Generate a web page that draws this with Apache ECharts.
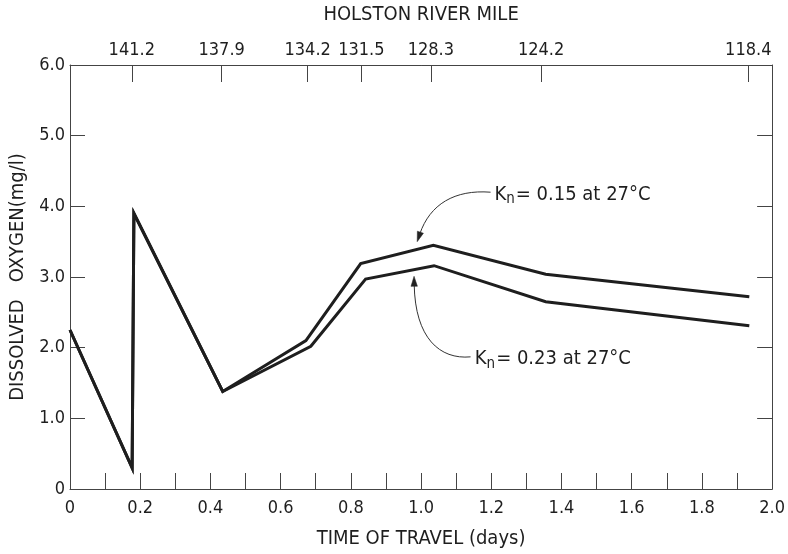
<!DOCTYPE html>
<html>
<head>
<meta charset="utf-8">
<script src="https://cdn.jsdelivr.net/npm/echarts@6/dist/echarts.min.js"></script>
<style>
html,body{margin:0;padding:0;background:#fff;}
#chart{width:788px;height:554px;}
</style>
</head>
<body>
<div id="chart"></div>
<script>
// ---- data ----
var upperDays = [0, 0.177, 0.182, 0.435, 0.672, 0.828, 1.035, 1.355, 1.935];
var upperDO   = [2.25, 0.30, 3.90, 1.38, 2.10, 3.19, 3.45, 3.04, 2.72];
var lowerDays = [0, 0.177, 0.182, 0.435, 0.686, 0.842, 1.037, 1.355, 1.935];
var lowerDO   = [2.25, 0.30, 3.90, 1.38, 2.02, 2.97, 3.16, 2.65, 2.31];

var xLabelValues = [0, 0.2, 0.4, 0.6, 0.8, 1.0, 1.2, 1.4, 1.6, 1.8, 2.0];
var xLabelTexts  = ['0', '0.2', '0.4', '0.6', '0.8', '1.0', '1.2', '1.4', '1.6', '1.8', '2.0'];
var yLabelValues = [0, 1, 2, 3, 4, 5, 6];
var yLabelTexts  = ['0', '1.0', '2.0', '3.0', '4.0', '5.0', '6.0'];
var mileDays   = [0.176, 0.432, 0.677, 0.830, 1.028, 1.342, 1.932];
var mileLabels = ['141.2', '137.9', '134.2', '131.5', '128.3', '124.2', '118.4'];

var annLabels = ['K{sub|n}= 0.15 at 27°C', 'K{sub|n}= 0.23 at 27°C'];
// annotation geometry in data units: text anchor, arrow tail, control 1, control 2, tip
var annText = [[1.209, 4.17], [1.153, 1.84]];
var annTail = [[1.198, 4.20], [1.141, 1.87]];
var annCp1  = [[1.096, 4.24], [1.054, 1.83]];
var annCp2  = [[1.025, 4.03], [0.983, 2.13]];
var annTip  = [[0.989, 3.50], [0.980, 3.01]];

var FONT = "'Liberation Sans Narrow','DejaVu Sans Condensed',Roboto,sans-serif";
var INK = '#1e1e1e';
var AX = '#444';

function zip(a, b) { return a.map(function (v, i) { return [v, b[i]]; }); }
function lookup(vals, texts, v) {
  for (var i = 0; i < vals.length; i++) if (Math.abs(vals[i] - v) < 1e-6) return texts[i];
  return '';
}

var chart = echarts.init(document.getElementById('chart'), null, {renderer: 'canvas'});
var lineStyle = {color: INK, width: 3, join: 'miter'};

chart.setOption({
  backgroundColor: '#fff',
  animation: false,
  textStyle: {fontFamily: FONT},
  grid: {left: 67, right: 13, top: 63, bottom: 62, containLabel: false},
  xAxis: [{
    type: 'value', position: 'bottom', min: 0, max: 2, interval: 0.1,
    axisLine: {show: true, onZero: false, lineStyle: {color: AX, width: 1}},
    axisTick: {show: true, inside: true, length: 16, lineStyle: {color: AX, width: 1}},
    axisLabel: {color: INK, fontSize: 18, fontFamily: FONT, margin: 10,
      formatter: function (v) { return lookup(xLabelValues, xLabelTexts, v); }},
    splitLine: {show: false},
    name: 'TIME OF TRAVEL (days)', nameLocation: 'middle', nameGap: 40,
    nameTextStyle: {color: INK, fontSize: 20, fontFamily: FONT}
  }, {
    type: 'value', position: 'top', min: 0, max: 2,
    axisLine: {show: true, onZero: false, lineStyle: {color: AX, width: 1}},
    axisTick: {show: true, inside: true, length: 17, customValues: mileDays, lineStyle: {color: AX, width: 1}},
    axisLabel: {show: true, color: INK, fontSize: 18, fontFamily: FONT, margin: 6, customValues: mileDays,
      formatter: function (v) { return lookup(mileDays, mileLabels, v); }},
    splitLine: {show: false},
    name: 'HOLSTON RIVER MILE', nameLocation: 'middle', nameGap: 40,
    nameTextStyle: {color: INK, fontSize: 20, fontFamily: FONT}
  }],
  yAxis: [{
    type: 'value', position: 'left', min: 0, max: 6, interval: 1,
    axisLine: {show: true, onZero: false, lineStyle: {color: AX, width: 1}},
    axisTick: {show: true, inside: true, length: 15, lineStyle: {color: AX, width: 1}},
    axisLabel: {color: INK, fontSize: 18, fontFamily: FONT, margin: 5,
      formatter: function (v) { return lookup(yLabelValues, yLabelTexts, v); }},
    splitLine: {show: false},
    name: 'DISSOLVED   OXYGEN(mg/l)', nameLocation: 'middle', nameGap: 42,
    nameTextStyle: {color: INK, fontSize: 20, fontFamily: FONT}
  }, {
    type: 'value', position: 'right', min: 0, max: 6, interval: 1,
    axisLine: {show: true, onZero: false, lineStyle: {color: AX, width: 1}},
    axisTick: {show: true, inside: true, length: 15, lineStyle: {color: AX, width: 1}},
    axisLabel: {show: false},
    splitLine: {show: false}
  }],
  series: [{
    name: 'Kn = 0.15', type: 'line', xAxisIndex: 0, yAxisIndex: 0,
    data: zip(upperDays, upperDO), showSymbol: false, symbol: 'none',
    lineStyle: lineStyle, z: 3
  }, {
    name: 'Kn = 0.23', type: 'line', xAxisIndex: 0, yAxisIndex: 0,
    data: zip(lowerDays, lowerDO), showSymbol: false, symbol: 'none',
    lineStyle: lineStyle, z: 3
  }, {
    type: 'custom', xAxisIndex: 0, yAxisIndex: 0, clip: false, silent: true, z: 5,
    data: annText,
    renderItem: function (params, api) {
      var i = params.dataIndex;
      var t = api.coord(annText[i]);
      var a = api.coord(annTail[i]);
      var c1 = api.coord(annCp1[i]);
      var c2 = api.coord(annCp2[i]);
      var p = api.coord(annTip[i]);
      var dx = p[0] - c2[0], dy = p[1] - c2[1];
      var L = Math.sqrt(dx * dx + dy * dy) || 1;
      var ux = dx / L, uy = dy / L;
      var hl = 10, hw = 3.2;
      var bx = p[0] - ux * hl, by = p[1] - uy * hl;
      return {
        type: 'group',
        children: [{
          type: 'bezierCurve',
          shape: {x1: a[0], y1: a[1], cpx1: c1[0], cpy1: c1[1], cpx2: c2[0], cpy2: c2[1],
                  x2: bx + ux * 2, y2: by + uy * 2},
          style: {stroke: '#333', lineWidth: 1, fill: null}
        }, {
          type: 'polygon',
          shape: {points: [[p[0], p[1]], [bx - uy * hw, by + ux * hw], [bx + uy * hw, by - ux * hw]]},
          style: {fill: '#222', stroke: '#222', lineWidth: 0.5}
        }, {
          type: 'text',
          x: t[0], y: t[1],
          style: {
            text: annLabels[i], fill: INK, font: '20px ' + FONT,
            verticalAlign: 'middle', align: 'left',
            rich: {sub: {fontSize: 15, fontFamily: FONT, fill: INK, verticalAlign: 'bottom', padding: [10, 1, 0, 0]}}
          }
        }]
      };
    }
  }]
});
</script>
</body>
</html>
